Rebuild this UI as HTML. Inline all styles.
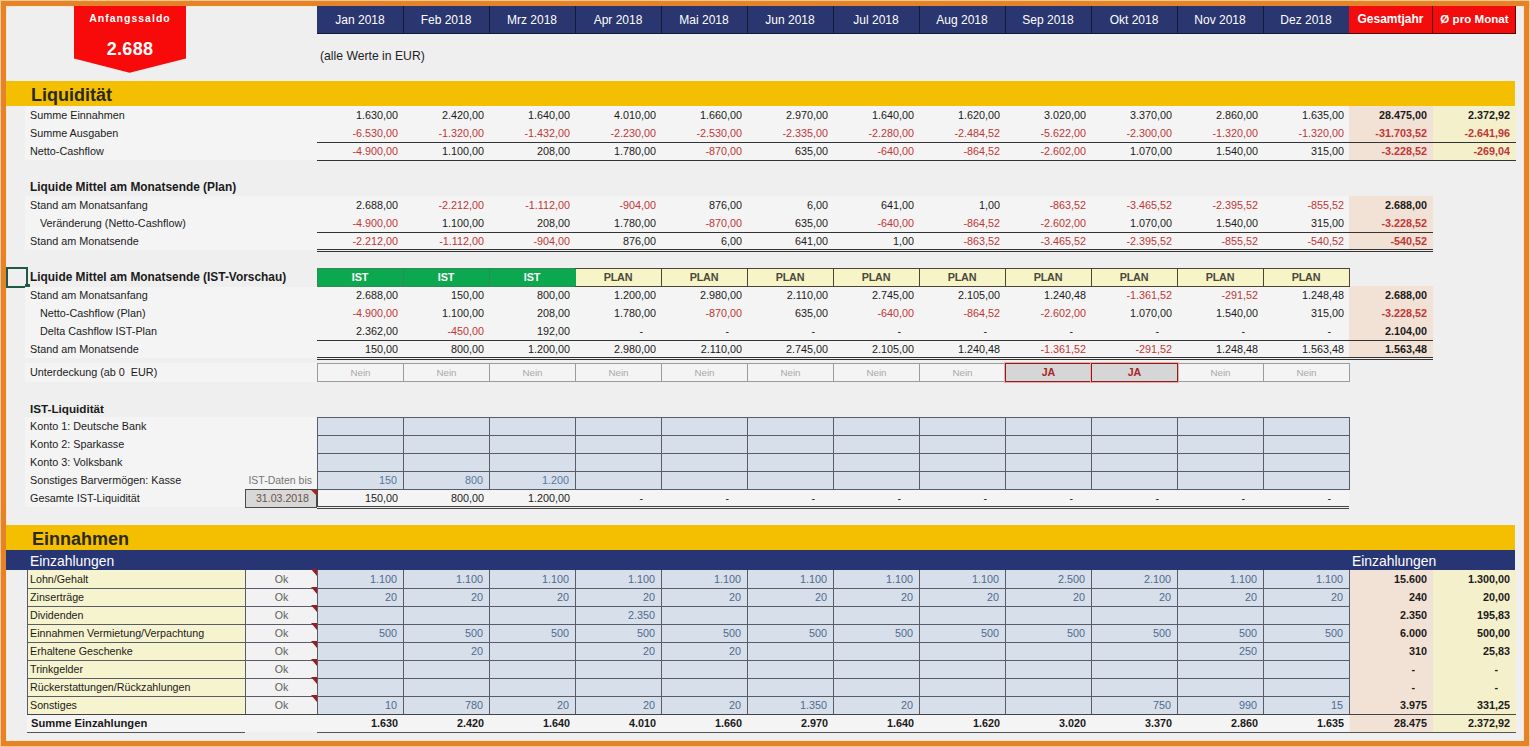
<!DOCTYPE html>
<html><head><meta charset="utf-8"><style>
html,body{margin:0;padding:0;}
body{width:1530px;height:747px;position:relative;overflow:hidden;font-family:"Liberation Sans", sans-serif;}
div{position:absolute;white-space:nowrap;overflow:hidden;}
</style></head><body>
<div style="left:0px;top:0px;width:1530px;height:747px;background:#fcc88c;"></div>
<div style="left:1px;top:1px;width:1528px;height:745px;background:#e4832a;"></div>
<div style="left:6px;top:6px;width:1518px;height:735px;background:#fbe6c8;"></div>
<div style="left:7px;top:7px;width:1516px;height:733px;background:#efefef;"></div>
<div style="left:317px;top:6px;width:1032px;height:28px;background:#121a3a;"></div>
<div style="left:317px;top:6px;width:86px;height:27px;background:#29366f;"></div>
<div style="left:317px;top:7px;width:86px;height:27px;font-size:12px;line-height:27px;color:#ffffff;text-align:center;">Jan 2018</div>
<div style="left:404px;top:6px;width:85px;height:27px;background:#29366f;"></div>
<div style="left:403px;top:7px;width:86px;height:27px;font-size:12px;line-height:27px;color:#ffffff;text-align:center;">Feb 2018</div>
<div style="left:490px;top:6px;width:85px;height:27px;background:#29366f;"></div>
<div style="left:489px;top:7px;width:86px;height:27px;font-size:12px;line-height:27px;color:#ffffff;text-align:center;">Mrz 2018</div>
<div style="left:576px;top:6px;width:85px;height:27px;background:#29366f;"></div>
<div style="left:575px;top:7px;width:86px;height:27px;font-size:12px;line-height:27px;color:#ffffff;text-align:center;">Apr 2018</div>
<div style="left:662px;top:6px;width:85px;height:27px;background:#29366f;"></div>
<div style="left:661px;top:7px;width:86px;height:27px;font-size:12px;line-height:27px;color:#ffffff;text-align:center;">Mai 2018</div>
<div style="left:748px;top:6px;width:85px;height:27px;background:#29366f;"></div>
<div style="left:747px;top:7px;width:86px;height:27px;font-size:12px;line-height:27px;color:#ffffff;text-align:center;">Jun 2018</div>
<div style="left:834px;top:6px;width:85px;height:27px;background:#29366f;"></div>
<div style="left:833px;top:7px;width:86px;height:27px;font-size:12px;line-height:27px;color:#ffffff;text-align:center;">Jul 2018</div>
<div style="left:920px;top:6px;width:85px;height:27px;background:#29366f;"></div>
<div style="left:919px;top:7px;width:86px;height:27px;font-size:12px;line-height:27px;color:#ffffff;text-align:center;">Aug 2018</div>
<div style="left:1006px;top:6px;width:85px;height:27px;background:#29366f;"></div>
<div style="left:1005px;top:7px;width:86px;height:27px;font-size:12px;line-height:27px;color:#ffffff;text-align:center;">Sep 2018</div>
<div style="left:1092px;top:6px;width:85px;height:27px;background:#29366f;"></div>
<div style="left:1091px;top:7px;width:86px;height:27px;font-size:12px;line-height:27px;color:#ffffff;text-align:center;">Okt 2018</div>
<div style="left:1178px;top:6px;width:85px;height:27px;background:#29366f;"></div>
<div style="left:1177px;top:7px;width:86px;height:27px;font-size:12px;line-height:27px;color:#ffffff;text-align:center;">Nov 2018</div>
<div style="left:1264px;top:6px;width:85px;height:27px;background:#29366f;"></div>
<div style="left:1263px;top:7px;width:86px;height:27px;font-size:12px;line-height:27px;color:#ffffff;text-align:center;">Dez 2018</div>
<div style="left:1349px;top:6px;width:167px;height:28px;background:#5a0000;"></div>
<div style="left:1349px;top:6px;width:83px;height:27px;background:#f20c0c;"></div>
<div style="left:1433px;top:6px;width:82px;height:27px;background:#f20c0c;"></div>
<div style="left:1349px;top:6px;width:83px;height:27px;font-size:12px;line-height:27px;color:#ffffff;text-align:center;font-weight:bold;">Gesamtjahr</div>
<div style="left:1433px;top:5px;width:83px;height:27px;font-size:11.6px;line-height:27px;color:#ffffff;text-align:center;font-weight:bold;">Ø pro Monat</div>
<svg style="position:absolute;left:0;top:0" width="300" height="80"><polygon points="74,6 186,6 186,58.5 129.6,72.8 74,58.5" fill="#f80a0a"/></svg>
<div style="left:74px;top:9px;width:112px;height:18px;font-size:10.5px;line-height:18px;color:#ffffff;text-align:center;font-weight:bold;letter-spacing:1px;">Anfangssaldo</div>
<div style="left:74px;top:36px;width:112px;height:26px;font-size:18px;line-height:26px;color:#ffffff;text-align:center;font-weight:bold;letter-spacing:0.3px;">2.688</div>
<div style="left:320px;top:47px;width:200px;height:18px;font-size:12.2px;line-height:18px;color:#222;text-align:left;">(alle Werte in EUR)</div>
<div style="left:6px;top:81px;width:1509px;height:25px;background:#f4bf00;"></div>
<div style="left:31px;top:83px;width:300px;height:25px;font-size:18px;line-height:25px;color:#2a2a1a;text-align:left;font-weight:bold;">Liquidität</div>
<div style="left:25px;top:106px;width:1491px;height:54px;background:#f4f4f4;"></div>
<div style="left:1349px;top:106px;width:84px;height:54px;background:#f2e2d5;"></div>
<div style="left:1433px;top:106px;width:83px;height:54px;background:#f4f0cc;"></div>
<div style="left:30px;top:106px;width:280px;height:18px;font-size:10.8px;line-height:18px;color:#1a1a1a;text-align:left;">Summe Einnahmen</div>
<div style="left:317px;top:106px;width:81px;height:18px;font-size:10.8px;line-height:18px;color:#1a1a1a;text-align:right;">1.630,00</div>
<div style="left:403px;top:106px;width:81px;height:18px;font-size:10.8px;line-height:18px;color:#1a1a1a;text-align:right;">2.420,00</div>
<div style="left:489px;top:106px;width:81px;height:18px;font-size:10.8px;line-height:18px;color:#1a1a1a;text-align:right;">1.640,00</div>
<div style="left:575px;top:106px;width:81px;height:18px;font-size:10.8px;line-height:18px;color:#1a1a1a;text-align:right;">4.010,00</div>
<div style="left:661px;top:106px;width:81px;height:18px;font-size:10.8px;line-height:18px;color:#1a1a1a;text-align:right;">1.660,00</div>
<div style="left:747px;top:106px;width:81px;height:18px;font-size:10.8px;line-height:18px;color:#1a1a1a;text-align:right;">2.970,00</div>
<div style="left:833px;top:106px;width:81px;height:18px;font-size:10.8px;line-height:18px;color:#1a1a1a;text-align:right;">1.640,00</div>
<div style="left:919px;top:106px;width:81px;height:18px;font-size:10.8px;line-height:18px;color:#1a1a1a;text-align:right;">1.620,00</div>
<div style="left:1005px;top:106px;width:81px;height:18px;font-size:10.8px;line-height:18px;color:#1a1a1a;text-align:right;">3.020,00</div>
<div style="left:1091px;top:106px;width:81px;height:18px;font-size:10.8px;line-height:18px;color:#1a1a1a;text-align:right;">3.370,00</div>
<div style="left:1177px;top:106px;width:81px;height:18px;font-size:10.8px;line-height:18px;color:#1a1a1a;text-align:right;">2.860,00</div>
<div style="left:1263px;top:106px;width:81px;height:18px;font-size:10.8px;line-height:18px;color:#1a1a1a;text-align:right;">1.635,00</div>
<div style="left:1349px;top:106px;width:78px;height:18px;font-size:10.8px;line-height:18px;color:#1a1a1a;text-align:right;font-weight:bold;">28.475,00</div>
<div style="left:1433px;top:106px;width:77px;height:18px;font-size:10.8px;line-height:18px;color:#1a1a1a;text-align:right;font-weight:bold;">2.372,92</div>
<div style="left:30px;top:124px;width:280px;height:18px;font-size:10.8px;line-height:18px;color:#1a1a1a;text-align:left;">Summe Ausgaben</div>
<div style="left:317px;top:124px;width:81px;height:18px;font-size:10.8px;line-height:18px;color:#c03636;text-align:right;">-6.530,00</div>
<div style="left:403px;top:124px;width:81px;height:18px;font-size:10.8px;line-height:18px;color:#c03636;text-align:right;">-1.320,00</div>
<div style="left:489px;top:124px;width:81px;height:18px;font-size:10.8px;line-height:18px;color:#c03636;text-align:right;">-1.432,00</div>
<div style="left:575px;top:124px;width:81px;height:18px;font-size:10.8px;line-height:18px;color:#c03636;text-align:right;">-2.230,00</div>
<div style="left:661px;top:124px;width:81px;height:18px;font-size:10.8px;line-height:18px;color:#c03636;text-align:right;">-2.530,00</div>
<div style="left:747px;top:124px;width:81px;height:18px;font-size:10.8px;line-height:18px;color:#c03636;text-align:right;">-2.335,00</div>
<div style="left:833px;top:124px;width:81px;height:18px;font-size:10.8px;line-height:18px;color:#c03636;text-align:right;">-2.280,00</div>
<div style="left:919px;top:124px;width:81px;height:18px;font-size:10.8px;line-height:18px;color:#c03636;text-align:right;">-2.484,52</div>
<div style="left:1005px;top:124px;width:81px;height:18px;font-size:10.8px;line-height:18px;color:#c03636;text-align:right;">-5.622,00</div>
<div style="left:1091px;top:124px;width:81px;height:18px;font-size:10.8px;line-height:18px;color:#c03636;text-align:right;">-2.300,00</div>
<div style="left:1177px;top:124px;width:81px;height:18px;font-size:10.8px;line-height:18px;color:#c03636;text-align:right;">-1.320,00</div>
<div style="left:1263px;top:124px;width:81px;height:18px;font-size:10.8px;line-height:18px;color:#c03636;text-align:right;">-1.320,00</div>
<div style="left:1349px;top:124px;width:78px;height:18px;font-size:10.8px;line-height:18px;color:#c03636;text-align:right;font-weight:bold;">-31.703,52</div>
<div style="left:1433px;top:124px;width:77px;height:18px;font-size:10.8px;line-height:18px;color:#c03636;text-align:right;font-weight:bold;">-2.641,96</div>
<div style="left:30px;top:142px;width:280px;height:18px;font-size:10.8px;line-height:18px;color:#1a1a1a;text-align:left;">Netto-Cashflow</div>
<div style="left:317px;top:142px;width:81px;height:18px;font-size:10.8px;line-height:18px;color:#c03636;text-align:right;">-4.900,00</div>
<div style="left:403px;top:142px;width:81px;height:18px;font-size:10.8px;line-height:18px;color:#1a1a1a;text-align:right;">1.100,00</div>
<div style="left:489px;top:142px;width:81px;height:18px;font-size:10.8px;line-height:18px;color:#1a1a1a;text-align:right;">208,00</div>
<div style="left:575px;top:142px;width:81px;height:18px;font-size:10.8px;line-height:18px;color:#1a1a1a;text-align:right;">1.780,00</div>
<div style="left:661px;top:142px;width:81px;height:18px;font-size:10.8px;line-height:18px;color:#c03636;text-align:right;">-870,00</div>
<div style="left:747px;top:142px;width:81px;height:18px;font-size:10.8px;line-height:18px;color:#1a1a1a;text-align:right;">635,00</div>
<div style="left:833px;top:142px;width:81px;height:18px;font-size:10.8px;line-height:18px;color:#c03636;text-align:right;">-640,00</div>
<div style="left:919px;top:142px;width:81px;height:18px;font-size:10.8px;line-height:18px;color:#c03636;text-align:right;">-864,52</div>
<div style="left:1005px;top:142px;width:81px;height:18px;font-size:10.8px;line-height:18px;color:#c03636;text-align:right;">-2.602,00</div>
<div style="left:1091px;top:142px;width:81px;height:18px;font-size:10.8px;line-height:18px;color:#1a1a1a;text-align:right;">1.070,00</div>
<div style="left:1177px;top:142px;width:81px;height:18px;font-size:10.8px;line-height:18px;color:#1a1a1a;text-align:right;">1.540,00</div>
<div style="left:1263px;top:142px;width:81px;height:18px;font-size:10.8px;line-height:18px;color:#1a1a1a;text-align:right;">315,00</div>
<div style="left:1349px;top:142px;width:78px;height:18px;font-size:10.8px;line-height:18px;color:#c03636;text-align:right;font-weight:bold;">-3.228,52</div>
<div style="left:1433px;top:142px;width:77px;height:18px;font-size:10.8px;line-height:18px;color:#c03636;text-align:right;font-weight:bold;">-269,04</div>
<div style="left:317px;top:142px;width:1199px;height:1px;background:#333;"></div>
<div style="left:317px;top:160px;width:1199px;height:1px;background:#333;"></div>
<div style="left:30px;top:178px;width:280px;height:18px;font-size:11.9px;line-height:18px;color:#1a1a1a;text-align:left;font-weight:bold;">Liquide Mittel am Monatsende (Plan)</div>
<div style="left:25px;top:196px;width:1324px;height:54px;background:#f4f4f4;"></div>
<div style="left:1349px;top:196px;width:84px;height:54px;background:#f2e2d5;"></div>
<div style="left:30px;top:196px;width:280px;height:18px;font-size:10.8px;line-height:18px;color:#1a1a1a;text-align:left;">Stand am Monatsanfang</div>
<div style="left:317px;top:196px;width:81px;height:18px;font-size:10.8px;line-height:18px;color:#1a1a1a;text-align:right;">2.688,00</div>
<div style="left:403px;top:196px;width:81px;height:18px;font-size:10.8px;line-height:18px;color:#c03636;text-align:right;">-2.212,00</div>
<div style="left:489px;top:196px;width:81px;height:18px;font-size:10.8px;line-height:18px;color:#c03636;text-align:right;">-1.112,00</div>
<div style="left:575px;top:196px;width:81px;height:18px;font-size:10.8px;line-height:18px;color:#c03636;text-align:right;">-904,00</div>
<div style="left:661px;top:196px;width:81px;height:18px;font-size:10.8px;line-height:18px;color:#1a1a1a;text-align:right;">876,00</div>
<div style="left:747px;top:196px;width:81px;height:18px;font-size:10.8px;line-height:18px;color:#1a1a1a;text-align:right;">6,00</div>
<div style="left:833px;top:196px;width:81px;height:18px;font-size:10.8px;line-height:18px;color:#1a1a1a;text-align:right;">641,00</div>
<div style="left:919px;top:196px;width:81px;height:18px;font-size:10.8px;line-height:18px;color:#1a1a1a;text-align:right;">1,00</div>
<div style="left:1005px;top:196px;width:81px;height:18px;font-size:10.8px;line-height:18px;color:#c03636;text-align:right;">-863,52</div>
<div style="left:1091px;top:196px;width:81px;height:18px;font-size:10.8px;line-height:18px;color:#c03636;text-align:right;">-3.465,52</div>
<div style="left:1177px;top:196px;width:81px;height:18px;font-size:10.8px;line-height:18px;color:#c03636;text-align:right;">-2.395,52</div>
<div style="left:1263px;top:196px;width:81px;height:18px;font-size:10.8px;line-height:18px;color:#c03636;text-align:right;">-855,52</div>
<div style="left:1349px;top:196px;width:78px;height:18px;font-size:10.8px;line-height:18px;color:#1a1a1a;text-align:right;font-weight:bold;">2.688,00</div>
<div style="left:40px;top:214px;width:280px;height:18px;font-size:10.8px;line-height:18px;color:#1a1a1a;text-align:left;">Veränderung (Netto-Cashflow)</div>
<div style="left:317px;top:214px;width:81px;height:18px;font-size:10.8px;line-height:18px;color:#c03636;text-align:right;">-4.900,00</div>
<div style="left:403px;top:214px;width:81px;height:18px;font-size:10.8px;line-height:18px;color:#1a1a1a;text-align:right;">1.100,00</div>
<div style="left:489px;top:214px;width:81px;height:18px;font-size:10.8px;line-height:18px;color:#1a1a1a;text-align:right;">208,00</div>
<div style="left:575px;top:214px;width:81px;height:18px;font-size:10.8px;line-height:18px;color:#1a1a1a;text-align:right;">1.780,00</div>
<div style="left:661px;top:214px;width:81px;height:18px;font-size:10.8px;line-height:18px;color:#c03636;text-align:right;">-870,00</div>
<div style="left:747px;top:214px;width:81px;height:18px;font-size:10.8px;line-height:18px;color:#1a1a1a;text-align:right;">635,00</div>
<div style="left:833px;top:214px;width:81px;height:18px;font-size:10.8px;line-height:18px;color:#c03636;text-align:right;">-640,00</div>
<div style="left:919px;top:214px;width:81px;height:18px;font-size:10.8px;line-height:18px;color:#c03636;text-align:right;">-864,52</div>
<div style="left:1005px;top:214px;width:81px;height:18px;font-size:10.8px;line-height:18px;color:#c03636;text-align:right;">-2.602,00</div>
<div style="left:1091px;top:214px;width:81px;height:18px;font-size:10.8px;line-height:18px;color:#1a1a1a;text-align:right;">1.070,00</div>
<div style="left:1177px;top:214px;width:81px;height:18px;font-size:10.8px;line-height:18px;color:#1a1a1a;text-align:right;">1.540,00</div>
<div style="left:1263px;top:214px;width:81px;height:18px;font-size:10.8px;line-height:18px;color:#1a1a1a;text-align:right;">315,00</div>
<div style="left:1349px;top:214px;width:78px;height:18px;font-size:10.8px;line-height:18px;color:#c03636;text-align:right;font-weight:bold;">-3.228,52</div>
<div style="left:30px;top:232px;width:280px;height:18px;font-size:10.8px;line-height:18px;color:#1a1a1a;text-align:left;">Stand am Monatsende</div>
<div style="left:317px;top:232px;width:81px;height:18px;font-size:10.8px;line-height:18px;color:#c03636;text-align:right;">-2.212,00</div>
<div style="left:403px;top:232px;width:81px;height:18px;font-size:10.8px;line-height:18px;color:#c03636;text-align:right;">-1.112,00</div>
<div style="left:489px;top:232px;width:81px;height:18px;font-size:10.8px;line-height:18px;color:#c03636;text-align:right;">-904,00</div>
<div style="left:575px;top:232px;width:81px;height:18px;font-size:10.8px;line-height:18px;color:#1a1a1a;text-align:right;">876,00</div>
<div style="left:661px;top:232px;width:81px;height:18px;font-size:10.8px;line-height:18px;color:#1a1a1a;text-align:right;">6,00</div>
<div style="left:747px;top:232px;width:81px;height:18px;font-size:10.8px;line-height:18px;color:#1a1a1a;text-align:right;">641,00</div>
<div style="left:833px;top:232px;width:81px;height:18px;font-size:10.8px;line-height:18px;color:#1a1a1a;text-align:right;">1,00</div>
<div style="left:919px;top:232px;width:81px;height:18px;font-size:10.8px;line-height:18px;color:#c03636;text-align:right;">-863,52</div>
<div style="left:1005px;top:232px;width:81px;height:18px;font-size:10.8px;line-height:18px;color:#c03636;text-align:right;">-3.465,52</div>
<div style="left:1091px;top:232px;width:81px;height:18px;font-size:10.8px;line-height:18px;color:#c03636;text-align:right;">-2.395,52</div>
<div style="left:1177px;top:232px;width:81px;height:18px;font-size:10.8px;line-height:18px;color:#c03636;text-align:right;">-855,52</div>
<div style="left:1263px;top:232px;width:81px;height:18px;font-size:10.8px;line-height:18px;color:#c03636;text-align:right;">-540,52</div>
<div style="left:1349px;top:232px;width:78px;height:18px;font-size:10.8px;line-height:18px;color:#c03636;text-align:right;font-weight:bold;">-540,52</div>
<div style="left:317px;top:232px;width:1116px;height:1px;background:#333;"></div>
<div style="left:317px;top:249px;width:1116px;height:1px;background:#333;"></div>
<div style="left:317px;top:251px;width:1116px;height:1px;background:#333;"></div>
<div style="left:30px;top:268px;width:280px;height:18px;font-size:11.9px;line-height:18px;color:#1a1a1a;text-align:left;font-weight:bold;">Liquide Mittel am Monatsende (IST-Vorschau)</div>
<div style="left:6px;top:267px;width:22px;height:21px;border:2px solid #1e5a45;box-sizing:border-box;"></div>
<div style="left:25px;top:284px;width:5px;height:5px;background:#1e5a45;"></div>
<div style="left:25px;top:287px;width:1324px;height:71px;background:#f4f4f4;"></div>
<div style="left:1349px;top:286px;width:84px;height:72px;background:#f2e2d5;"></div>
<div style="left:317px;top:268px;width:258px;height:19px;background:#2f8a55;"></div>
<div style="left:575px;top:268px;width:775px;height:19px;background:#4a4536;"></div>
<div style="left:318px;top:269px;width:85px;height:17px;background:#0ca84f;"></div>
<div style="left:317px;top:268px;width:86px;height:18px;font-size:10.8px;line-height:18px;color:#ffffff;text-align:center;font-weight:bold;letter-spacing:-0.1px;">IST</div>
<div style="left:404px;top:269px;width:85px;height:17px;background:#0ca84f;"></div>
<div style="left:403px;top:268px;width:86px;height:18px;font-size:10.8px;line-height:18px;color:#ffffff;text-align:center;font-weight:bold;letter-spacing:-0.1px;">IST</div>
<div style="left:490px;top:269px;width:86px;height:17px;background:#0ca84f;"></div>
<div style="left:489px;top:268px;width:86px;height:18px;font-size:10.8px;line-height:18px;color:#ffffff;text-align:center;font-weight:bold;letter-spacing:-0.1px;">IST</div>
<div style="left:576px;top:269px;width:85px;height:17px;background:#f7f4c7;"></div>
<div style="left:575px;top:268px;width:86px;height:18px;font-size:10.8px;line-height:18px;color:#4a4a3c;text-align:center;font-weight:bold;letter-spacing:-0.2px;">PLAN</div>
<div style="left:662px;top:269px;width:85px;height:17px;background:#f7f4c7;"></div>
<div style="left:661px;top:268px;width:86px;height:18px;font-size:10.8px;line-height:18px;color:#4a4a3c;text-align:center;font-weight:bold;letter-spacing:-0.2px;">PLAN</div>
<div style="left:748px;top:269px;width:85px;height:17px;background:#f7f4c7;"></div>
<div style="left:747px;top:268px;width:86px;height:18px;font-size:10.8px;line-height:18px;color:#4a4a3c;text-align:center;font-weight:bold;letter-spacing:-0.2px;">PLAN</div>
<div style="left:834px;top:269px;width:85px;height:17px;background:#f7f4c7;"></div>
<div style="left:833px;top:268px;width:86px;height:18px;font-size:10.8px;line-height:18px;color:#4a4a3c;text-align:center;font-weight:bold;letter-spacing:-0.2px;">PLAN</div>
<div style="left:920px;top:269px;width:85px;height:17px;background:#f7f4c7;"></div>
<div style="left:919px;top:268px;width:86px;height:18px;font-size:10.8px;line-height:18px;color:#4a4a3c;text-align:center;font-weight:bold;letter-spacing:-0.2px;">PLAN</div>
<div style="left:1006px;top:269px;width:85px;height:17px;background:#f7f4c7;"></div>
<div style="left:1005px;top:268px;width:86px;height:18px;font-size:10.8px;line-height:18px;color:#4a4a3c;text-align:center;font-weight:bold;letter-spacing:-0.2px;">PLAN</div>
<div style="left:1092px;top:269px;width:85px;height:17px;background:#f7f4c7;"></div>
<div style="left:1091px;top:268px;width:86px;height:18px;font-size:10.8px;line-height:18px;color:#4a4a3c;text-align:center;font-weight:bold;letter-spacing:-0.2px;">PLAN</div>
<div style="left:1178px;top:269px;width:85px;height:17px;background:#f7f4c7;"></div>
<div style="left:1177px;top:268px;width:86px;height:18px;font-size:10.8px;line-height:18px;color:#4a4a3c;text-align:center;font-weight:bold;letter-spacing:-0.2px;">PLAN</div>
<div style="left:1264px;top:269px;width:85px;height:17px;background:#f7f4c7;"></div>
<div style="left:1263px;top:268px;width:86px;height:18px;font-size:10.8px;line-height:18px;color:#4a4a3c;text-align:center;font-weight:bold;letter-spacing:-0.2px;">PLAN</div>
<div style="left:30px;top:286px;width:280px;height:18px;font-size:10.8px;line-height:18px;color:#1a1a1a;text-align:left;">Stand am Monatsanfang</div>
<div style="left:317px;top:286px;width:81px;height:18px;font-size:10.8px;line-height:18px;color:#1a1a1a;text-align:right;">2.688,00</div>
<div style="left:403px;top:286px;width:81px;height:18px;font-size:10.8px;line-height:18px;color:#1a1a1a;text-align:right;">150,00</div>
<div style="left:489px;top:286px;width:81px;height:18px;font-size:10.8px;line-height:18px;color:#1a1a1a;text-align:right;">800,00</div>
<div style="left:575px;top:286px;width:81px;height:18px;font-size:10.8px;line-height:18px;color:#1a1a1a;text-align:right;">1.200,00</div>
<div style="left:661px;top:286px;width:81px;height:18px;font-size:10.8px;line-height:18px;color:#1a1a1a;text-align:right;">2.980,00</div>
<div style="left:747px;top:286px;width:81px;height:18px;font-size:10.8px;line-height:18px;color:#1a1a1a;text-align:right;">2.110,00</div>
<div style="left:833px;top:286px;width:81px;height:18px;font-size:10.8px;line-height:18px;color:#1a1a1a;text-align:right;">2.745,00</div>
<div style="left:919px;top:286px;width:81px;height:18px;font-size:10.8px;line-height:18px;color:#1a1a1a;text-align:right;">2.105,00</div>
<div style="left:1005px;top:286px;width:81px;height:18px;font-size:10.8px;line-height:18px;color:#1a1a1a;text-align:right;">1.240,48</div>
<div style="left:1091px;top:286px;width:81px;height:18px;font-size:10.8px;line-height:18px;color:#c03636;text-align:right;">-1.361,52</div>
<div style="left:1177px;top:286px;width:81px;height:18px;font-size:10.8px;line-height:18px;color:#c03636;text-align:right;">-291,52</div>
<div style="left:1263px;top:286px;width:81px;height:18px;font-size:10.8px;line-height:18px;color:#1a1a1a;text-align:right;">1.248,48</div>
<div style="left:1349px;top:286px;width:78px;height:18px;font-size:10.8px;line-height:18px;color:#1a1a1a;text-align:right;font-weight:bold;">2.688,00</div>
<div style="left:40px;top:304px;width:280px;height:18px;font-size:10.8px;line-height:18px;color:#1a1a1a;text-align:left;">Netto-Cashflow (Plan)</div>
<div style="left:317px;top:304px;width:81px;height:18px;font-size:10.8px;line-height:18px;color:#c03636;text-align:right;">-4.900,00</div>
<div style="left:403px;top:304px;width:81px;height:18px;font-size:10.8px;line-height:18px;color:#1a1a1a;text-align:right;">1.100,00</div>
<div style="left:489px;top:304px;width:81px;height:18px;font-size:10.8px;line-height:18px;color:#1a1a1a;text-align:right;">208,00</div>
<div style="left:575px;top:304px;width:81px;height:18px;font-size:10.8px;line-height:18px;color:#1a1a1a;text-align:right;">1.780,00</div>
<div style="left:661px;top:304px;width:81px;height:18px;font-size:10.8px;line-height:18px;color:#c03636;text-align:right;">-870,00</div>
<div style="left:747px;top:304px;width:81px;height:18px;font-size:10.8px;line-height:18px;color:#1a1a1a;text-align:right;">635,00</div>
<div style="left:833px;top:304px;width:81px;height:18px;font-size:10.8px;line-height:18px;color:#c03636;text-align:right;">-640,00</div>
<div style="left:919px;top:304px;width:81px;height:18px;font-size:10.8px;line-height:18px;color:#c03636;text-align:right;">-864,52</div>
<div style="left:1005px;top:304px;width:81px;height:18px;font-size:10.8px;line-height:18px;color:#c03636;text-align:right;">-2.602,00</div>
<div style="left:1091px;top:304px;width:81px;height:18px;font-size:10.8px;line-height:18px;color:#1a1a1a;text-align:right;">1.070,00</div>
<div style="left:1177px;top:304px;width:81px;height:18px;font-size:10.8px;line-height:18px;color:#1a1a1a;text-align:right;">1.540,00</div>
<div style="left:1263px;top:304px;width:81px;height:18px;font-size:10.8px;line-height:18px;color:#1a1a1a;text-align:right;">315,00</div>
<div style="left:1349px;top:304px;width:78px;height:18px;font-size:10.8px;line-height:18px;color:#c03636;text-align:right;font-weight:bold;">-3.228,52</div>
<div style="left:40px;top:322px;width:280px;height:18px;font-size:10.8px;line-height:18px;color:#1a1a1a;text-align:left;">Delta Cashflow IST-Plan</div>
<div style="left:317px;top:322px;width:81px;height:18px;font-size:10.8px;line-height:18px;color:#1a1a1a;text-align:right;">2.362,00</div>
<div style="left:403px;top:322px;width:81px;height:18px;font-size:10.8px;line-height:18px;color:#c03636;text-align:right;">-450,00</div>
<div style="left:489px;top:322px;width:81px;height:18px;font-size:10.8px;line-height:18px;color:#1a1a1a;text-align:right;">192,00</div>
<div style="left:575px;top:322px;width:68px;height:18px;font-size:10.8px;line-height:18px;color:#1a1a1a;text-align:right;">-</div>
<div style="left:661px;top:322px;width:68px;height:18px;font-size:10.8px;line-height:18px;color:#1a1a1a;text-align:right;">-</div>
<div style="left:747px;top:322px;width:68px;height:18px;font-size:10.8px;line-height:18px;color:#1a1a1a;text-align:right;">-</div>
<div style="left:833px;top:322px;width:68px;height:18px;font-size:10.8px;line-height:18px;color:#1a1a1a;text-align:right;">-</div>
<div style="left:919px;top:322px;width:68px;height:18px;font-size:10.8px;line-height:18px;color:#1a1a1a;text-align:right;">-</div>
<div style="left:1005px;top:322px;width:68px;height:18px;font-size:10.8px;line-height:18px;color:#1a1a1a;text-align:right;">-</div>
<div style="left:1091px;top:322px;width:68px;height:18px;font-size:10.8px;line-height:18px;color:#1a1a1a;text-align:right;">-</div>
<div style="left:1177px;top:322px;width:68px;height:18px;font-size:10.8px;line-height:18px;color:#1a1a1a;text-align:right;">-</div>
<div style="left:1263px;top:322px;width:68px;height:18px;font-size:10.8px;line-height:18px;color:#1a1a1a;text-align:right;">-</div>
<div style="left:1349px;top:322px;width:78px;height:18px;font-size:10.8px;line-height:18px;color:#1a1a1a;text-align:right;font-weight:bold;">2.104,00</div>
<div style="left:30px;top:340px;width:280px;height:18px;font-size:10.8px;line-height:18px;color:#1a1a1a;text-align:left;">Stand am Monatsende</div>
<div style="left:317px;top:340px;width:81px;height:18px;font-size:10.8px;line-height:18px;color:#1a1a1a;text-align:right;">150,00</div>
<div style="left:403px;top:340px;width:81px;height:18px;font-size:10.8px;line-height:18px;color:#1a1a1a;text-align:right;">800,00</div>
<div style="left:489px;top:340px;width:81px;height:18px;font-size:10.8px;line-height:18px;color:#1a1a1a;text-align:right;">1.200,00</div>
<div style="left:575px;top:340px;width:81px;height:18px;font-size:10.8px;line-height:18px;color:#1a1a1a;text-align:right;">2.980,00</div>
<div style="left:661px;top:340px;width:81px;height:18px;font-size:10.8px;line-height:18px;color:#1a1a1a;text-align:right;">2.110,00</div>
<div style="left:747px;top:340px;width:81px;height:18px;font-size:10.8px;line-height:18px;color:#1a1a1a;text-align:right;">2.745,00</div>
<div style="left:833px;top:340px;width:81px;height:18px;font-size:10.8px;line-height:18px;color:#1a1a1a;text-align:right;">2.105,00</div>
<div style="left:919px;top:340px;width:81px;height:18px;font-size:10.8px;line-height:18px;color:#1a1a1a;text-align:right;">1.240,48</div>
<div style="left:1005px;top:340px;width:81px;height:18px;font-size:10.8px;line-height:18px;color:#c03636;text-align:right;">-1.361,52</div>
<div style="left:1091px;top:340px;width:81px;height:18px;font-size:10.8px;line-height:18px;color:#c03636;text-align:right;">-291,52</div>
<div style="left:1177px;top:340px;width:81px;height:18px;font-size:10.8px;line-height:18px;color:#1a1a1a;text-align:right;">1.248,48</div>
<div style="left:1263px;top:340px;width:81px;height:18px;font-size:10.8px;line-height:18px;color:#1a1a1a;text-align:right;">1.563,48</div>
<div style="left:1349px;top:340px;width:78px;height:18px;font-size:10.8px;line-height:18px;color:#1a1a1a;text-align:right;font-weight:bold;">1.563,48</div>
<div style="left:317px;top:340px;width:1116px;height:1px;background:#333;"></div>
<div style="left:317px;top:357px;width:1116px;height:1px;background:#333;"></div>
<div style="left:317px;top:359px;width:1116px;height:1px;background:#333;"></div>
<div style="left:25px;top:363px;width:1324px;height:19px;background:#f4f4f4;"></div>
<div style="left:30px;top:363px;width:280px;height:18px;font-size:10.8px;line-height:18px;color:#1a1a1a;text-align:left;">Unterdeckung (ab 0&nbsp; EUR)</div>
<div style="left:317px;top:363px;width:87px;height:19px;border:1px solid #9c9c9c;box-sizing:border-box;background:#f4f4f4;"></div>
<div style="left:317px;top:363px;width:87px;height:19px;font-size:9.8px;line-height:19px;color:#a8a8a8;text-align:center;">Nein</div>
<div style="left:403px;top:363px;width:87px;height:19px;border:1px solid #9c9c9c;box-sizing:border-box;background:#f4f4f4;"></div>
<div style="left:403px;top:363px;width:87px;height:19px;font-size:9.8px;line-height:19px;color:#a8a8a8;text-align:center;">Nein</div>
<div style="left:489px;top:363px;width:87px;height:19px;border:1px solid #9c9c9c;box-sizing:border-box;background:#f4f4f4;"></div>
<div style="left:489px;top:363px;width:87px;height:19px;font-size:9.8px;line-height:19px;color:#a8a8a8;text-align:center;">Nein</div>
<div style="left:575px;top:363px;width:87px;height:19px;border:1px solid #9c9c9c;box-sizing:border-box;background:#f4f4f4;"></div>
<div style="left:575px;top:363px;width:87px;height:19px;font-size:9.8px;line-height:19px;color:#a8a8a8;text-align:center;">Nein</div>
<div style="left:661px;top:363px;width:87px;height:19px;border:1px solid #9c9c9c;box-sizing:border-box;background:#f4f4f4;"></div>
<div style="left:661px;top:363px;width:87px;height:19px;font-size:9.8px;line-height:19px;color:#a8a8a8;text-align:center;">Nein</div>
<div style="left:747px;top:363px;width:87px;height:19px;border:1px solid #9c9c9c;box-sizing:border-box;background:#f4f4f4;"></div>
<div style="left:747px;top:363px;width:87px;height:19px;font-size:9.8px;line-height:19px;color:#a8a8a8;text-align:center;">Nein</div>
<div style="left:833px;top:363px;width:87px;height:19px;border:1px solid #9c9c9c;box-sizing:border-box;background:#f4f4f4;"></div>
<div style="left:833px;top:363px;width:87px;height:19px;font-size:9.8px;line-height:19px;color:#a8a8a8;text-align:center;">Nein</div>
<div style="left:919px;top:363px;width:87px;height:19px;border:1px solid #9c9c9c;box-sizing:border-box;background:#f4f4f4;"></div>
<div style="left:919px;top:363px;width:87px;height:19px;font-size:9.8px;line-height:19px;color:#a8a8a8;text-align:center;">Nein</div>
<div style="left:1005px;top:363px;width:87px;height:19px;background:#d6d6d6;border:1px solid #9a2a2a;box-sizing:border-box;"></div>
<div style="left:1005px;top:363px;width:87px;height:19px;font-size:10.6px;line-height:19px;color:#a82626;text-align:center;font-weight:bold;">JA</div>
<div style="left:1091px;top:363px;width:87px;height:19px;background:#d6d6d6;border:1px solid #9a2a2a;box-sizing:border-box;"></div>
<div style="left:1091px;top:363px;width:87px;height:19px;font-size:10.6px;line-height:19px;color:#a82626;text-align:center;font-weight:bold;">JA</div>
<div style="left:1177px;top:363px;width:87px;height:19px;border:1px solid #9c9c9c;box-sizing:border-box;background:#f4f4f4;"></div>
<div style="left:1177px;top:363px;width:87px;height:19px;font-size:9.8px;line-height:19px;color:#a8a8a8;text-align:center;">Nein</div>
<div style="left:1263px;top:363px;width:87px;height:19px;border:1px solid #9c9c9c;box-sizing:border-box;background:#f4f4f4;"></div>
<div style="left:1263px;top:363px;width:87px;height:19px;font-size:9.8px;line-height:19px;color:#a8a8a8;text-align:center;">Nein</div>
<div style="left:1005px;top:363px;width:87px;height:19px;background:#d6d6d6;border:1px solid #862020;box-sizing:border-box;box-shadow:0 0 0 1px #f4a8a8;"></div>
<div style="left:1005px;top:363px;width:87px;height:19px;font-size:10.6px;line-height:19px;color:#a82626;text-align:center;font-weight:bold;">JA</div>
<div style="left:1091px;top:363px;width:87px;height:19px;background:#d6d6d6;border:1px solid #862020;box-sizing:border-box;box-shadow:0 0 0 1px #f4a8a8;"></div>
<div style="left:1091px;top:363px;width:87px;height:19px;font-size:10.6px;line-height:19px;color:#a82626;text-align:center;font-weight:bold;">JA</div>
<div style="left:30px;top:400px;width:280px;height:18px;font-size:11.7px;line-height:18px;color:#1a1a1a;text-align:left;font-weight:bold;">IST-Liquidität</div>
<div style="left:25px;top:417px;width:292px;height:90px;background:#f4f4f4;"></div>
<div style="left:30px;top:417px;width:280px;height:18px;font-size:10.8px;line-height:18px;color:#1a1a1a;text-align:left;">Konto 1: Deutsche Bank</div>
<div style="left:30px;top:435px;width:280px;height:18px;font-size:10.8px;line-height:18px;color:#1a1a1a;text-align:left;">Konto 2: Sparkasse</div>
<div style="left:30px;top:453px;width:280px;height:18px;font-size:10.8px;line-height:18px;color:#1a1a1a;text-align:left;">Konto 3: Volksbank</div>
<div style="left:30px;top:471px;width:280px;height:18px;font-size:10.8px;line-height:18px;color:#1a1a1a;text-align:left;">Sonstiges Barvermögen: Kasse</div>
<div style="left:30px;top:489px;width:280px;height:18px;font-size:10.8px;line-height:18px;color:#1a1a1a;text-align:left;">Gesamte IST-Liquidität</div>
<div style="left:317px;top:417px;width:1033px;height:73px;background:#585c68;"></div>
<div style="left:318px;top:418px;width:85px;height:17px;background:#d6dfea;"></div>
<div style="left:404px;top:418px;width:85px;height:17px;background:#d6dfea;"></div>
<div style="left:490px;top:418px;width:85px;height:17px;background:#d6dfea;"></div>
<div style="left:576px;top:418px;width:85px;height:17px;background:#d6dfea;"></div>
<div style="left:662px;top:418px;width:85px;height:17px;background:#d6dfea;"></div>
<div style="left:748px;top:418px;width:85px;height:17px;background:#d6dfea;"></div>
<div style="left:834px;top:418px;width:85px;height:17px;background:#d6dfea;"></div>
<div style="left:920px;top:418px;width:85px;height:17px;background:#d6dfea;"></div>
<div style="left:1006px;top:418px;width:85px;height:17px;background:#d6dfea;"></div>
<div style="left:1092px;top:418px;width:85px;height:17px;background:#d6dfea;"></div>
<div style="left:1178px;top:418px;width:85px;height:17px;background:#d6dfea;"></div>
<div style="left:1264px;top:418px;width:85px;height:17px;background:#d6dfea;"></div>
<div style="left:318px;top:436px;width:85px;height:17px;background:#d6dfea;"></div>
<div style="left:404px;top:436px;width:85px;height:17px;background:#d6dfea;"></div>
<div style="left:490px;top:436px;width:85px;height:17px;background:#d6dfea;"></div>
<div style="left:576px;top:436px;width:85px;height:17px;background:#d6dfea;"></div>
<div style="left:662px;top:436px;width:85px;height:17px;background:#d6dfea;"></div>
<div style="left:748px;top:436px;width:85px;height:17px;background:#d6dfea;"></div>
<div style="left:834px;top:436px;width:85px;height:17px;background:#d6dfea;"></div>
<div style="left:920px;top:436px;width:85px;height:17px;background:#d6dfea;"></div>
<div style="left:1006px;top:436px;width:85px;height:17px;background:#d6dfea;"></div>
<div style="left:1092px;top:436px;width:85px;height:17px;background:#d6dfea;"></div>
<div style="left:1178px;top:436px;width:85px;height:17px;background:#d6dfea;"></div>
<div style="left:1264px;top:436px;width:85px;height:17px;background:#d6dfea;"></div>
<div style="left:318px;top:454px;width:85px;height:17px;background:#d6dfea;"></div>
<div style="left:404px;top:454px;width:85px;height:17px;background:#d6dfea;"></div>
<div style="left:490px;top:454px;width:85px;height:17px;background:#d6dfea;"></div>
<div style="left:576px;top:454px;width:85px;height:17px;background:#d6dfea;"></div>
<div style="left:662px;top:454px;width:85px;height:17px;background:#d6dfea;"></div>
<div style="left:748px;top:454px;width:85px;height:17px;background:#d6dfea;"></div>
<div style="left:834px;top:454px;width:85px;height:17px;background:#d6dfea;"></div>
<div style="left:920px;top:454px;width:85px;height:17px;background:#d6dfea;"></div>
<div style="left:1006px;top:454px;width:85px;height:17px;background:#d6dfea;"></div>
<div style="left:1092px;top:454px;width:85px;height:17px;background:#d6dfea;"></div>
<div style="left:1178px;top:454px;width:85px;height:17px;background:#d6dfea;"></div>
<div style="left:1264px;top:454px;width:85px;height:17px;background:#d6dfea;"></div>
<div style="left:318px;top:472px;width:85px;height:17px;background:#d6dfea;"></div>
<div style="left:404px;top:472px;width:85px;height:17px;background:#d6dfea;"></div>
<div style="left:490px;top:472px;width:85px;height:17px;background:#d6dfea;"></div>
<div style="left:576px;top:472px;width:85px;height:17px;background:#d6dfea;"></div>
<div style="left:662px;top:472px;width:85px;height:17px;background:#d6dfea;"></div>
<div style="left:748px;top:472px;width:85px;height:17px;background:#d6dfea;"></div>
<div style="left:834px;top:472px;width:85px;height:17px;background:#d6dfea;"></div>
<div style="left:920px;top:472px;width:85px;height:17px;background:#d6dfea;"></div>
<div style="left:1006px;top:472px;width:85px;height:17px;background:#d6dfea;"></div>
<div style="left:1092px;top:472px;width:85px;height:17px;background:#d6dfea;"></div>
<div style="left:1178px;top:472px;width:85px;height:17px;background:#d6dfea;"></div>
<div style="left:1264px;top:472px;width:85px;height:17px;background:#d6dfea;"></div>
<div style="left:317px;top:471px;width:80px;height:18px;font-size:10.8px;line-height:18px;color:#5876a0;text-align:right;">150</div>
<div style="left:403px;top:471px;width:80px;height:18px;font-size:10.8px;line-height:18px;color:#5876a0;text-align:right;">800</div>
<div style="left:489px;top:471px;width:80px;height:18px;font-size:10.8px;line-height:18px;color:#5876a0;text-align:right;">1.200</div>
<div style="left:200px;top:471px;width:112px;height:18px;font-size:10.5px;line-height:18px;color:#767676;text-align:right;">IST-Daten bis</div>
<div style="left:245px;top:489px;width:72px;height:19px;background:#d8d8d8;border:1px solid #4a4a4a;box-sizing:border-box;"></div>
<div style="left:245px;top:489px;width:64px;height:18px;font-size:10.6px;line-height:18px;color:#6a5548;text-align:right;">31.03.2018</div>
<svg style="position:absolute;left:310px;top:490px" width="7" height="7"><polygon points="1,0 7,0 7,6" fill="#b02020"/></svg>
<div style="left:317px;top:490px;width:1032px;height:17px;background:#f4f4f4;"></div>
<div style="left:317px;top:489px;width:1px;height:18px;background:#444;"></div>
<div style="left:317px;top:489px;width:81px;height:18px;font-size:10.8px;line-height:18px;color:#1a1a1a;text-align:right;">150,00</div>
<div style="left:403px;top:489px;width:81px;height:18px;font-size:10.8px;line-height:18px;color:#1a1a1a;text-align:right;">800,00</div>
<div style="left:489px;top:489px;width:81px;height:18px;font-size:10.8px;line-height:18px;color:#1a1a1a;text-align:right;">1.200,00</div>
<div style="left:575px;top:489px;width:68px;height:18px;font-size:10.8px;line-height:18px;color:#1a1a1a;text-align:right;">-</div>
<div style="left:661px;top:489px;width:68px;height:18px;font-size:10.8px;line-height:18px;color:#1a1a1a;text-align:right;">-</div>
<div style="left:747px;top:489px;width:68px;height:18px;font-size:10.8px;line-height:18px;color:#1a1a1a;text-align:right;">-</div>
<div style="left:833px;top:489px;width:68px;height:18px;font-size:10.8px;line-height:18px;color:#1a1a1a;text-align:right;">-</div>
<div style="left:919px;top:489px;width:68px;height:18px;font-size:10.8px;line-height:18px;color:#1a1a1a;text-align:right;">-</div>
<div style="left:1005px;top:489px;width:68px;height:18px;font-size:10.8px;line-height:18px;color:#1a1a1a;text-align:right;">-</div>
<div style="left:1091px;top:489px;width:68px;height:18px;font-size:10.8px;line-height:18px;color:#1a1a1a;text-align:right;">-</div>
<div style="left:1177px;top:489px;width:68px;height:18px;font-size:10.8px;line-height:18px;color:#1a1a1a;text-align:right;">-</div>
<div style="left:1263px;top:489px;width:68px;height:18px;font-size:10.8px;line-height:18px;color:#1a1a1a;text-align:right;">-</div>
<div style="left:317px;top:506px;width:1032px;height:1px;background:#444;"></div>
<div style="left:317px;top:508px;width:1032px;height:1px;background:#444;"></div>
<div style="left:6px;top:525px;width:1509px;height:25px;background:#f4bf00;"></div>
<div style="left:32px;top:527px;width:300px;height:25px;font-size:18px;line-height:25px;color:#2a2a1a;text-align:left;font-weight:bold;">Einnahmen</div>
<div style="left:6px;top:550px;width:1509px;height:20px;background:#283574;"></div>
<div style="left:30px;top:551px;width:300px;height:20px;font-size:13.9px;line-height:20px;color:#ffffff;text-align:left;">Einzahlungen</div>
<div style="left:1352px;top:551px;width:160px;height:20px;font-size:13.9px;line-height:20px;color:#ffffff;text-align:left;">Einzahlungen</div>
<div style="left:27px;top:570px;width:1323px;height:145px;background:#585c68;"></div>
<div style="left:1350px;top:570px;width:83px;height:162px;background:#f2e2d5;"></div>
<div style="left:1433px;top:570px;width:83px;height:162px;background:#f4f0cc;"></div>
<div style="left:28px;top:570px;width:217px;height:18px;background:#f6f3cf;"></div>
<div style="left:246px;top:570px;width:71px;height:18px;background:#f2f2f2;"></div>
<div style="left:30px;top:570px;width:215px;height:18px;font-size:10.7px;line-height:18px;color:#1a1a1a;text-align:left;">Lohn/Gehalt</div>
<div style="left:246px;top:570px;width:71px;height:18px;font-size:10.6px;line-height:18px;color:#606060;text-align:center;">Ok</div>
<svg style="position:absolute;left:311px;top:569px" width="6" height="7"><polygon points="0,0 6,0 6,7" fill="#9a1c24"/></svg>
<div style="left:318px;top:570px;width:85px;height:18px;background:#d6dfea;"></div>
<div style="left:317px;top:570px;width:80px;height:18px;font-size:10.8px;line-height:18px;color:#4f6a8e;text-align:right;">1.100</div>
<div style="left:404px;top:570px;width:85px;height:18px;background:#d6dfea;"></div>
<div style="left:403px;top:570px;width:80px;height:18px;font-size:10.8px;line-height:18px;color:#4f6a8e;text-align:right;">1.100</div>
<div style="left:490px;top:570px;width:85px;height:18px;background:#d6dfea;"></div>
<div style="left:489px;top:570px;width:80px;height:18px;font-size:10.8px;line-height:18px;color:#4f6a8e;text-align:right;">1.100</div>
<div style="left:576px;top:570px;width:85px;height:18px;background:#d6dfea;"></div>
<div style="left:575px;top:570px;width:80px;height:18px;font-size:10.8px;line-height:18px;color:#4f6a8e;text-align:right;">1.100</div>
<div style="left:662px;top:570px;width:85px;height:18px;background:#d6dfea;"></div>
<div style="left:661px;top:570px;width:80px;height:18px;font-size:10.8px;line-height:18px;color:#4f6a8e;text-align:right;">1.100</div>
<div style="left:748px;top:570px;width:85px;height:18px;background:#d6dfea;"></div>
<div style="left:747px;top:570px;width:80px;height:18px;font-size:10.8px;line-height:18px;color:#4f6a8e;text-align:right;">1.100</div>
<div style="left:834px;top:570px;width:85px;height:18px;background:#d6dfea;"></div>
<div style="left:833px;top:570px;width:80px;height:18px;font-size:10.8px;line-height:18px;color:#4f6a8e;text-align:right;">1.100</div>
<div style="left:920px;top:570px;width:85px;height:18px;background:#d6dfea;"></div>
<div style="left:919px;top:570px;width:80px;height:18px;font-size:10.8px;line-height:18px;color:#4f6a8e;text-align:right;">1.100</div>
<div style="left:1006px;top:570px;width:85px;height:18px;background:#d6dfea;"></div>
<div style="left:1005px;top:570px;width:80px;height:18px;font-size:10.8px;line-height:18px;color:#4f6a8e;text-align:right;">2.500</div>
<div style="left:1092px;top:570px;width:85px;height:18px;background:#d6dfea;"></div>
<div style="left:1091px;top:570px;width:80px;height:18px;font-size:10.8px;line-height:18px;color:#4f6a8e;text-align:right;">2.100</div>
<div style="left:1178px;top:570px;width:85px;height:18px;background:#d6dfea;"></div>
<div style="left:1177px;top:570px;width:80px;height:18px;font-size:10.8px;line-height:18px;color:#4f6a8e;text-align:right;">1.100</div>
<div style="left:1264px;top:570px;width:85px;height:18px;background:#d6dfea;"></div>
<div style="left:1263px;top:570px;width:80px;height:18px;font-size:10.8px;line-height:18px;color:#4f6a8e;text-align:right;">1.100</div>
<div style="left:1349px;top:570px;width:78px;height:18px;font-size:10.8px;line-height:18px;color:#1a1a1a;text-align:right;font-weight:bold;">15.600</div>
<div style="left:1433px;top:570px;width:77px;height:18px;font-size:10.8px;line-height:18px;color:#1a1a1a;text-align:right;font-weight:bold;">1.300,00</div>
<div style="left:28px;top:589px;width:217px;height:17px;background:#f6f3cf;"></div>
<div style="left:246px;top:589px;width:71px;height:17px;background:#f2f2f2;"></div>
<div style="left:30px;top:588px;width:215px;height:18px;font-size:10.7px;line-height:18px;color:#1a1a1a;text-align:left;">Zinserträge</div>
<div style="left:246px;top:588px;width:71px;height:18px;font-size:10.6px;line-height:18px;color:#606060;text-align:center;">Ok</div>
<svg style="position:absolute;left:311px;top:587px" width="6" height="7"><polygon points="0,0 6,0 6,7" fill="#9a1c24"/></svg>
<div style="left:318px;top:589px;width:85px;height:17px;background:#d6dfea;"></div>
<div style="left:317px;top:588px;width:80px;height:18px;font-size:10.8px;line-height:18px;color:#4f6a8e;text-align:right;">20</div>
<div style="left:404px;top:589px;width:85px;height:17px;background:#d6dfea;"></div>
<div style="left:403px;top:588px;width:80px;height:18px;font-size:10.8px;line-height:18px;color:#4f6a8e;text-align:right;">20</div>
<div style="left:490px;top:589px;width:85px;height:17px;background:#d6dfea;"></div>
<div style="left:489px;top:588px;width:80px;height:18px;font-size:10.8px;line-height:18px;color:#4f6a8e;text-align:right;">20</div>
<div style="left:576px;top:589px;width:85px;height:17px;background:#d6dfea;"></div>
<div style="left:575px;top:588px;width:80px;height:18px;font-size:10.8px;line-height:18px;color:#4f6a8e;text-align:right;">20</div>
<div style="left:662px;top:589px;width:85px;height:17px;background:#d6dfea;"></div>
<div style="left:661px;top:588px;width:80px;height:18px;font-size:10.8px;line-height:18px;color:#4f6a8e;text-align:right;">20</div>
<div style="left:748px;top:589px;width:85px;height:17px;background:#d6dfea;"></div>
<div style="left:747px;top:588px;width:80px;height:18px;font-size:10.8px;line-height:18px;color:#4f6a8e;text-align:right;">20</div>
<div style="left:834px;top:589px;width:85px;height:17px;background:#d6dfea;"></div>
<div style="left:833px;top:588px;width:80px;height:18px;font-size:10.8px;line-height:18px;color:#4f6a8e;text-align:right;">20</div>
<div style="left:920px;top:589px;width:85px;height:17px;background:#d6dfea;"></div>
<div style="left:919px;top:588px;width:80px;height:18px;font-size:10.8px;line-height:18px;color:#4f6a8e;text-align:right;">20</div>
<div style="left:1006px;top:589px;width:85px;height:17px;background:#d6dfea;"></div>
<div style="left:1005px;top:588px;width:80px;height:18px;font-size:10.8px;line-height:18px;color:#4f6a8e;text-align:right;">20</div>
<div style="left:1092px;top:589px;width:85px;height:17px;background:#d6dfea;"></div>
<div style="left:1091px;top:588px;width:80px;height:18px;font-size:10.8px;line-height:18px;color:#4f6a8e;text-align:right;">20</div>
<div style="left:1178px;top:589px;width:85px;height:17px;background:#d6dfea;"></div>
<div style="left:1177px;top:588px;width:80px;height:18px;font-size:10.8px;line-height:18px;color:#4f6a8e;text-align:right;">20</div>
<div style="left:1264px;top:589px;width:85px;height:17px;background:#d6dfea;"></div>
<div style="left:1263px;top:588px;width:80px;height:18px;font-size:10.8px;line-height:18px;color:#4f6a8e;text-align:right;">20</div>
<div style="left:1349px;top:588px;width:78px;height:18px;font-size:10.8px;line-height:18px;color:#1a1a1a;text-align:right;font-weight:bold;">240</div>
<div style="left:1433px;top:588px;width:77px;height:18px;font-size:10.8px;line-height:18px;color:#1a1a1a;text-align:right;font-weight:bold;">20,00</div>
<div style="left:28px;top:607px;width:217px;height:17px;background:#f6f3cf;"></div>
<div style="left:246px;top:607px;width:71px;height:17px;background:#f2f2f2;"></div>
<div style="left:30px;top:606px;width:215px;height:18px;font-size:10.7px;line-height:18px;color:#1a1a1a;text-align:left;">Dividenden</div>
<div style="left:246px;top:606px;width:71px;height:18px;font-size:10.6px;line-height:18px;color:#606060;text-align:center;">Ok</div>
<svg style="position:absolute;left:311px;top:605px" width="6" height="7"><polygon points="0,0 6,0 6,7" fill="#9a1c24"/></svg>
<div style="left:318px;top:607px;width:85px;height:17px;background:#d6dfea;"></div>
<div style="left:404px;top:607px;width:85px;height:17px;background:#d6dfea;"></div>
<div style="left:490px;top:607px;width:85px;height:17px;background:#d6dfea;"></div>
<div style="left:576px;top:607px;width:85px;height:17px;background:#d6dfea;"></div>
<div style="left:575px;top:606px;width:80px;height:18px;font-size:10.8px;line-height:18px;color:#4f6a8e;text-align:right;">2.350</div>
<div style="left:662px;top:607px;width:85px;height:17px;background:#d6dfea;"></div>
<div style="left:748px;top:607px;width:85px;height:17px;background:#d6dfea;"></div>
<div style="left:834px;top:607px;width:85px;height:17px;background:#d6dfea;"></div>
<div style="left:920px;top:607px;width:85px;height:17px;background:#d6dfea;"></div>
<div style="left:1006px;top:607px;width:85px;height:17px;background:#d6dfea;"></div>
<div style="left:1092px;top:607px;width:85px;height:17px;background:#d6dfea;"></div>
<div style="left:1178px;top:607px;width:85px;height:17px;background:#d6dfea;"></div>
<div style="left:1264px;top:607px;width:85px;height:17px;background:#d6dfea;"></div>
<div style="left:1349px;top:606px;width:78px;height:18px;font-size:10.8px;line-height:18px;color:#1a1a1a;text-align:right;font-weight:bold;">2.350</div>
<div style="left:1433px;top:606px;width:77px;height:18px;font-size:10.8px;line-height:18px;color:#1a1a1a;text-align:right;font-weight:bold;">195,83</div>
<div style="left:28px;top:625px;width:217px;height:17px;background:#f6f3cf;"></div>
<div style="left:246px;top:625px;width:71px;height:17px;background:#f2f2f2;"></div>
<div style="left:30px;top:624px;width:215px;height:18px;font-size:10.7px;line-height:18px;color:#1a1a1a;text-align:left;">Einnahmen Vermietung/Verpachtung</div>
<div style="left:246px;top:624px;width:71px;height:18px;font-size:10.6px;line-height:18px;color:#606060;text-align:center;">Ok</div>
<svg style="position:absolute;left:311px;top:623px" width="6" height="7"><polygon points="0,0 6,0 6,7" fill="#9a1c24"/></svg>
<div style="left:318px;top:625px;width:85px;height:17px;background:#d6dfea;"></div>
<div style="left:317px;top:624px;width:80px;height:18px;font-size:10.8px;line-height:18px;color:#4f6a8e;text-align:right;">500</div>
<div style="left:404px;top:625px;width:85px;height:17px;background:#d6dfea;"></div>
<div style="left:403px;top:624px;width:80px;height:18px;font-size:10.8px;line-height:18px;color:#4f6a8e;text-align:right;">500</div>
<div style="left:490px;top:625px;width:85px;height:17px;background:#d6dfea;"></div>
<div style="left:489px;top:624px;width:80px;height:18px;font-size:10.8px;line-height:18px;color:#4f6a8e;text-align:right;">500</div>
<div style="left:576px;top:625px;width:85px;height:17px;background:#d6dfea;"></div>
<div style="left:575px;top:624px;width:80px;height:18px;font-size:10.8px;line-height:18px;color:#4f6a8e;text-align:right;">500</div>
<div style="left:662px;top:625px;width:85px;height:17px;background:#d6dfea;"></div>
<div style="left:661px;top:624px;width:80px;height:18px;font-size:10.8px;line-height:18px;color:#4f6a8e;text-align:right;">500</div>
<div style="left:748px;top:625px;width:85px;height:17px;background:#d6dfea;"></div>
<div style="left:747px;top:624px;width:80px;height:18px;font-size:10.8px;line-height:18px;color:#4f6a8e;text-align:right;">500</div>
<div style="left:834px;top:625px;width:85px;height:17px;background:#d6dfea;"></div>
<div style="left:833px;top:624px;width:80px;height:18px;font-size:10.8px;line-height:18px;color:#4f6a8e;text-align:right;">500</div>
<div style="left:920px;top:625px;width:85px;height:17px;background:#d6dfea;"></div>
<div style="left:919px;top:624px;width:80px;height:18px;font-size:10.8px;line-height:18px;color:#4f6a8e;text-align:right;">500</div>
<div style="left:1006px;top:625px;width:85px;height:17px;background:#d6dfea;"></div>
<div style="left:1005px;top:624px;width:80px;height:18px;font-size:10.8px;line-height:18px;color:#4f6a8e;text-align:right;">500</div>
<div style="left:1092px;top:625px;width:85px;height:17px;background:#d6dfea;"></div>
<div style="left:1091px;top:624px;width:80px;height:18px;font-size:10.8px;line-height:18px;color:#4f6a8e;text-align:right;">500</div>
<div style="left:1178px;top:625px;width:85px;height:17px;background:#d6dfea;"></div>
<div style="left:1177px;top:624px;width:80px;height:18px;font-size:10.8px;line-height:18px;color:#4f6a8e;text-align:right;">500</div>
<div style="left:1264px;top:625px;width:85px;height:17px;background:#d6dfea;"></div>
<div style="left:1263px;top:624px;width:80px;height:18px;font-size:10.8px;line-height:18px;color:#4f6a8e;text-align:right;">500</div>
<div style="left:1349px;top:624px;width:78px;height:18px;font-size:10.8px;line-height:18px;color:#1a1a1a;text-align:right;font-weight:bold;">6.000</div>
<div style="left:1433px;top:624px;width:77px;height:18px;font-size:10.8px;line-height:18px;color:#1a1a1a;text-align:right;font-weight:bold;">500,00</div>
<div style="left:28px;top:643px;width:217px;height:17px;background:#f6f3cf;"></div>
<div style="left:246px;top:643px;width:71px;height:17px;background:#f2f2f2;"></div>
<div style="left:30px;top:642px;width:215px;height:18px;font-size:10.7px;line-height:18px;color:#1a1a1a;text-align:left;">Erhaltene Geschenke</div>
<div style="left:246px;top:642px;width:71px;height:18px;font-size:10.6px;line-height:18px;color:#606060;text-align:center;">Ok</div>
<svg style="position:absolute;left:311px;top:641px" width="6" height="7"><polygon points="0,0 6,0 6,7" fill="#9a1c24"/></svg>
<div style="left:318px;top:643px;width:85px;height:17px;background:#d6dfea;"></div>
<div style="left:404px;top:643px;width:85px;height:17px;background:#d6dfea;"></div>
<div style="left:403px;top:642px;width:80px;height:18px;font-size:10.8px;line-height:18px;color:#4f6a8e;text-align:right;">20</div>
<div style="left:490px;top:643px;width:85px;height:17px;background:#d6dfea;"></div>
<div style="left:576px;top:643px;width:85px;height:17px;background:#d6dfea;"></div>
<div style="left:575px;top:642px;width:80px;height:18px;font-size:10.8px;line-height:18px;color:#4f6a8e;text-align:right;">20</div>
<div style="left:662px;top:643px;width:85px;height:17px;background:#d6dfea;"></div>
<div style="left:661px;top:642px;width:80px;height:18px;font-size:10.8px;line-height:18px;color:#4f6a8e;text-align:right;">20</div>
<div style="left:748px;top:643px;width:85px;height:17px;background:#d6dfea;"></div>
<div style="left:834px;top:643px;width:85px;height:17px;background:#d6dfea;"></div>
<div style="left:920px;top:643px;width:85px;height:17px;background:#d6dfea;"></div>
<div style="left:1006px;top:643px;width:85px;height:17px;background:#d6dfea;"></div>
<div style="left:1092px;top:643px;width:85px;height:17px;background:#d6dfea;"></div>
<div style="left:1178px;top:643px;width:85px;height:17px;background:#d6dfea;"></div>
<div style="left:1177px;top:642px;width:80px;height:18px;font-size:10.8px;line-height:18px;color:#4f6a8e;text-align:right;">250</div>
<div style="left:1264px;top:643px;width:85px;height:17px;background:#d6dfea;"></div>
<div style="left:1349px;top:642px;width:78px;height:18px;font-size:10.8px;line-height:18px;color:#1a1a1a;text-align:right;font-weight:bold;">310</div>
<div style="left:1433px;top:642px;width:77px;height:18px;font-size:10.8px;line-height:18px;color:#1a1a1a;text-align:right;font-weight:bold;">25,83</div>
<div style="left:28px;top:661px;width:217px;height:17px;background:#f6f3cf;"></div>
<div style="left:246px;top:661px;width:71px;height:17px;background:#f2f2f2;"></div>
<div style="left:30px;top:660px;width:215px;height:18px;font-size:10.7px;line-height:18px;color:#1a1a1a;text-align:left;">Trinkgelder</div>
<div style="left:246px;top:660px;width:71px;height:18px;font-size:10.6px;line-height:18px;color:#606060;text-align:center;">Ok</div>
<svg style="position:absolute;left:311px;top:659px" width="6" height="7"><polygon points="0,0 6,0 6,7" fill="#9a1c24"/></svg>
<div style="left:318px;top:661px;width:85px;height:17px;background:#d6dfea;"></div>
<div style="left:404px;top:661px;width:85px;height:17px;background:#d6dfea;"></div>
<div style="left:490px;top:661px;width:85px;height:17px;background:#d6dfea;"></div>
<div style="left:576px;top:661px;width:85px;height:17px;background:#d6dfea;"></div>
<div style="left:662px;top:661px;width:85px;height:17px;background:#d6dfea;"></div>
<div style="left:748px;top:661px;width:85px;height:17px;background:#d6dfea;"></div>
<div style="left:834px;top:661px;width:85px;height:17px;background:#d6dfea;"></div>
<div style="left:920px;top:661px;width:85px;height:17px;background:#d6dfea;"></div>
<div style="left:1006px;top:661px;width:85px;height:17px;background:#d6dfea;"></div>
<div style="left:1092px;top:661px;width:85px;height:17px;background:#d6dfea;"></div>
<div style="left:1178px;top:661px;width:85px;height:17px;background:#d6dfea;"></div>
<div style="left:1264px;top:661px;width:85px;height:17px;background:#d6dfea;"></div>
<div style="left:1349px;top:660px;width:66px;height:18px;font-size:10.8px;line-height:18px;color:#1a1a1a;text-align:right;font-weight:bold;">-</div>
<div style="left:1433px;top:660px;width:65px;height:18px;font-size:10.8px;line-height:18px;color:#1a1a1a;text-align:right;font-weight:bold;">-</div>
<div style="left:28px;top:679px;width:217px;height:17px;background:#f6f3cf;"></div>
<div style="left:246px;top:679px;width:71px;height:17px;background:#f2f2f2;"></div>
<div style="left:30px;top:678px;width:215px;height:18px;font-size:10.7px;line-height:18px;color:#1a1a1a;text-align:left;">Rückerstattungen/Rückzahlungen</div>
<div style="left:246px;top:678px;width:71px;height:18px;font-size:10.6px;line-height:18px;color:#606060;text-align:center;">Ok</div>
<svg style="position:absolute;left:311px;top:677px" width="6" height="7"><polygon points="0,0 6,0 6,7" fill="#9a1c24"/></svg>
<div style="left:318px;top:679px;width:85px;height:17px;background:#d6dfea;"></div>
<div style="left:404px;top:679px;width:85px;height:17px;background:#d6dfea;"></div>
<div style="left:490px;top:679px;width:85px;height:17px;background:#d6dfea;"></div>
<div style="left:576px;top:679px;width:85px;height:17px;background:#d6dfea;"></div>
<div style="left:662px;top:679px;width:85px;height:17px;background:#d6dfea;"></div>
<div style="left:748px;top:679px;width:85px;height:17px;background:#d6dfea;"></div>
<div style="left:834px;top:679px;width:85px;height:17px;background:#d6dfea;"></div>
<div style="left:920px;top:679px;width:85px;height:17px;background:#d6dfea;"></div>
<div style="left:1006px;top:679px;width:85px;height:17px;background:#d6dfea;"></div>
<div style="left:1092px;top:679px;width:85px;height:17px;background:#d6dfea;"></div>
<div style="left:1178px;top:679px;width:85px;height:17px;background:#d6dfea;"></div>
<div style="left:1264px;top:679px;width:85px;height:17px;background:#d6dfea;"></div>
<div style="left:1349px;top:678px;width:66px;height:18px;font-size:10.8px;line-height:18px;color:#1a1a1a;text-align:right;font-weight:bold;">-</div>
<div style="left:1433px;top:678px;width:65px;height:18px;font-size:10.8px;line-height:18px;color:#1a1a1a;text-align:right;font-weight:bold;">-</div>
<div style="left:28px;top:697px;width:217px;height:17px;background:#f6f3cf;"></div>
<div style="left:246px;top:697px;width:71px;height:17px;background:#f2f2f2;"></div>
<div style="left:30px;top:696px;width:215px;height:18px;font-size:10.7px;line-height:18px;color:#1a1a1a;text-align:left;">Sonstiges</div>
<div style="left:246px;top:696px;width:71px;height:18px;font-size:10.6px;line-height:18px;color:#606060;text-align:center;">Ok</div>
<svg style="position:absolute;left:311px;top:695px" width="6" height="7"><polygon points="0,0 6,0 6,7" fill="#9a1c24"/></svg>
<div style="left:318px;top:697px;width:85px;height:17px;background:#d6dfea;"></div>
<div style="left:317px;top:696px;width:80px;height:18px;font-size:10.8px;line-height:18px;color:#4f6a8e;text-align:right;">10</div>
<div style="left:404px;top:697px;width:85px;height:17px;background:#d6dfea;"></div>
<div style="left:403px;top:696px;width:80px;height:18px;font-size:10.8px;line-height:18px;color:#4f6a8e;text-align:right;">780</div>
<div style="left:490px;top:697px;width:85px;height:17px;background:#d6dfea;"></div>
<div style="left:489px;top:696px;width:80px;height:18px;font-size:10.8px;line-height:18px;color:#4f6a8e;text-align:right;">20</div>
<div style="left:576px;top:697px;width:85px;height:17px;background:#d6dfea;"></div>
<div style="left:575px;top:696px;width:80px;height:18px;font-size:10.8px;line-height:18px;color:#4f6a8e;text-align:right;">20</div>
<div style="left:662px;top:697px;width:85px;height:17px;background:#d6dfea;"></div>
<div style="left:661px;top:696px;width:80px;height:18px;font-size:10.8px;line-height:18px;color:#4f6a8e;text-align:right;">20</div>
<div style="left:748px;top:697px;width:85px;height:17px;background:#d6dfea;"></div>
<div style="left:747px;top:696px;width:80px;height:18px;font-size:10.8px;line-height:18px;color:#4f6a8e;text-align:right;">1.350</div>
<div style="left:834px;top:697px;width:85px;height:17px;background:#d6dfea;"></div>
<div style="left:833px;top:696px;width:80px;height:18px;font-size:10.8px;line-height:18px;color:#4f6a8e;text-align:right;">20</div>
<div style="left:920px;top:697px;width:85px;height:17px;background:#d6dfea;"></div>
<div style="left:1006px;top:697px;width:85px;height:17px;background:#d6dfea;"></div>
<div style="left:1092px;top:697px;width:85px;height:17px;background:#d6dfea;"></div>
<div style="left:1091px;top:696px;width:80px;height:18px;font-size:10.8px;line-height:18px;color:#4f6a8e;text-align:right;">750</div>
<div style="left:1178px;top:697px;width:85px;height:17px;background:#d6dfea;"></div>
<div style="left:1177px;top:696px;width:80px;height:18px;font-size:10.8px;line-height:18px;color:#4f6a8e;text-align:right;">990</div>
<div style="left:1264px;top:697px;width:85px;height:17px;background:#d6dfea;"></div>
<div style="left:1263px;top:696px;width:80px;height:18px;font-size:10.8px;line-height:18px;color:#4f6a8e;text-align:right;">15</div>
<div style="left:1349px;top:696px;width:78px;height:18px;font-size:10.8px;line-height:18px;color:#1a1a1a;text-align:right;font-weight:bold;">3.975</div>
<div style="left:1433px;top:696px;width:77px;height:18px;font-size:10.8px;line-height:18px;color:#1a1a1a;text-align:right;font-weight:bold;">331,25</div>
<div style="left:27px;top:714px;width:1489px;height:1px;background:#444;"></div>
<div style="left:27px;top:715px;width:1322px;height:17px;background:#f4f4f4;"></div>
<div style="left:31px;top:714px;width:215px;height:18px;font-size:11.2px;line-height:18px;color:#1a1a1a;text-align:left;font-weight:bold;">Summe Einzahlungen</div>
<div style="left:317px;top:714px;width:81px;height:18px;font-size:10.8px;line-height:18px;color:#1a1a1a;text-align:right;font-weight:bold;">1.630</div>
<div style="left:403px;top:714px;width:81px;height:18px;font-size:10.8px;line-height:18px;color:#1a1a1a;text-align:right;font-weight:bold;">2.420</div>
<div style="left:489px;top:714px;width:81px;height:18px;font-size:10.8px;line-height:18px;color:#1a1a1a;text-align:right;font-weight:bold;">1.640</div>
<div style="left:575px;top:714px;width:81px;height:18px;font-size:10.8px;line-height:18px;color:#1a1a1a;text-align:right;font-weight:bold;">4.010</div>
<div style="left:661px;top:714px;width:81px;height:18px;font-size:10.8px;line-height:18px;color:#1a1a1a;text-align:right;font-weight:bold;">1.660</div>
<div style="left:747px;top:714px;width:81px;height:18px;font-size:10.8px;line-height:18px;color:#1a1a1a;text-align:right;font-weight:bold;">2.970</div>
<div style="left:833px;top:714px;width:81px;height:18px;font-size:10.8px;line-height:18px;color:#1a1a1a;text-align:right;font-weight:bold;">1.640</div>
<div style="left:919px;top:714px;width:81px;height:18px;font-size:10.8px;line-height:18px;color:#1a1a1a;text-align:right;font-weight:bold;">1.620</div>
<div style="left:1005px;top:714px;width:81px;height:18px;font-size:10.8px;line-height:18px;color:#1a1a1a;text-align:right;font-weight:bold;">3.020</div>
<div style="left:1091px;top:714px;width:81px;height:18px;font-size:10.8px;line-height:18px;color:#1a1a1a;text-align:right;font-weight:bold;">3.370</div>
<div style="left:1177px;top:714px;width:81px;height:18px;font-size:10.8px;line-height:18px;color:#1a1a1a;text-align:right;font-weight:bold;">2.860</div>
<div style="left:1263px;top:714px;width:81px;height:18px;font-size:10.8px;line-height:18px;color:#1a1a1a;text-align:right;font-weight:bold;">1.635</div>
<div style="left:1349px;top:714px;width:78px;height:18px;font-size:10.8px;line-height:18px;color:#1a1a1a;text-align:right;font-weight:bold;">28.475</div>
<div style="left:1433px;top:714px;width:77px;height:18px;font-size:10.8px;line-height:18px;color:#1a1a1a;text-align:right;font-weight:bold;">2.372,92</div>
<div style="left:27px;top:732px;width:218px;height:1px;background:#555;"></div>
<div style="left:317px;top:732px;width:1199px;height:1px;background:#555;"></div>
</body></html>
